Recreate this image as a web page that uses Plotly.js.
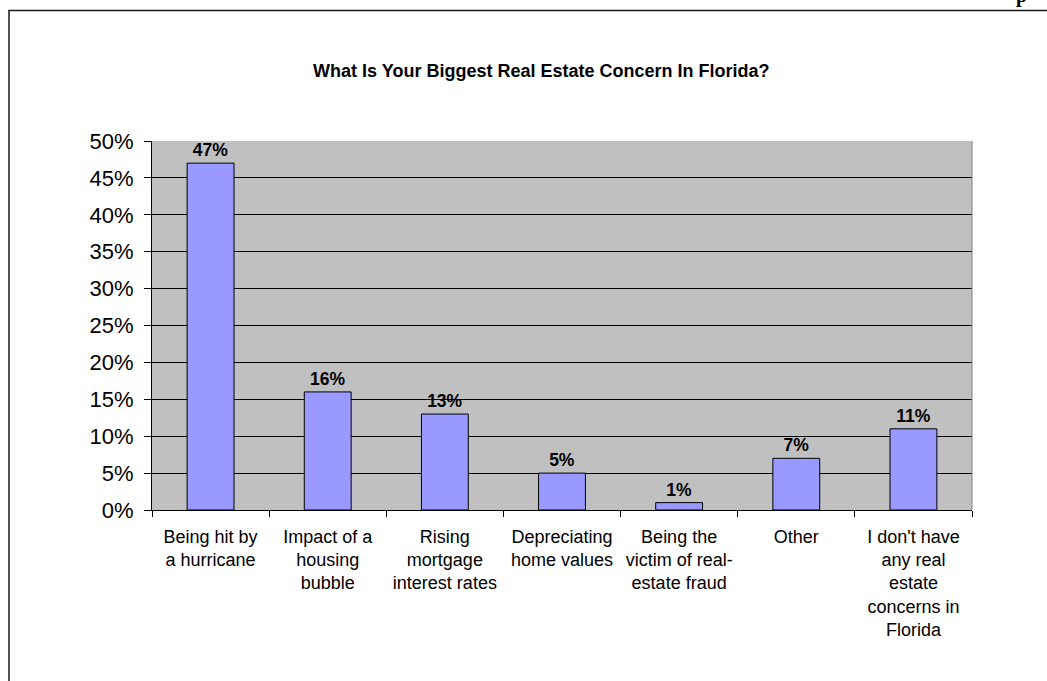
<!DOCTYPE html>
<html>
<head>
<meta charset="utf-8">
<script src="https://cdn.plot.ly/plotly-3.0.1.min.js"></script>
<style>
html,body{margin:0;padding:0;background:#fff;}
#chart{width:1047px;height:681px;}
</style>
</head>
<body>
<div id="chart"></div>
<script>
const categories = [
  "Being hit by<br>a hurricane",
  "Impact of a<br>housing<br>bubble",
  "Rising<br>mortgage<br>interest rates",
  "Depreciating<br>home values",
  "Being the<br>victim of real-<br>estate fraud",
  "Other",
  "I don't have<br>any real<br>estate<br>concerns in<br>Florida"
];
const values = [0.47, 0.16, 0.13, 0.05, 0.01, 0.07, 0.11];
const valueLabels = ["47%", "16%", "13%", "5%", "1%", "7%", "11%"];
const yTickVals = [0, 0.05, 0.10, 0.15, 0.20, 0.25, 0.30, 0.35, 0.40, 0.45, 0.50];
const yTickText = ["0%", "5%", "10%", "15%", "20%", "25%", "30%", "35%", "40%", "45%", "50%"];
const chartTitle = "What Is Your Biggest Real Estate Concern In Florida?";

const trace = {
  type: "bar",
  x: categories,
  y: values,
  width: 0.4,
  marker: {color: "#9999FF", line: {color: "#000000", width: 1}},
  text: valueLabels,
  textposition: "outside",
  texttemplate: "<b>%{text}</b>",
  textfont: {family: "Arial, 'Liberation Sans', sans-serif", size: 17.5, color: "#000"},
  constraintext: "none",
  cliponaxis: false,
  hoverinfo: "none"
};

const layout = {
  width: 1047,
  height: 681,
  margin: {l: 152, r: 75, t: 141, b: 171, pad: 0},
  paper_bgcolor: "#ffffff",
  plot_bgcolor: "#C0C0C0",
  showlegend: false,
  font: {family: "Arial, 'Liberation Sans', sans-serif", color: "#000"},
  title: {
    text: "<b>" + chartTitle + "</b>",
    font: {size: 18, color: "#000"},
    xref: "container", x: 0.517, xanchor: "center",
    yref: "container", y: 0.896, yanchor: "middle"
  },
  xaxis: {
    type: "category",
    showline: true, linecolor: "#000", linewidth: 1,
    ticks: "outside", ticklen: 6, tickcolor: "#000", tickwidth: 1,
    tickson: "boundaries",
    showgrid: false,
    tickfont: {size: 18, color: "#000"},
    tickangle: 0,
    ticklabelstandoff: 10,
    fixedrange: true
  },
  yaxis: {
    range: [0, 0.5],
    tickvals: yTickVals,
    ticktext: yTickText,
    showline: true, linecolor: "#000", linewidth: 1,
    ticks: "outside", ticklen: 7, tickcolor: "#000", tickwidth: 1,
    showgrid: true, gridcolor: "#000", gridwidth: 1,
    zeroline: false,
    tickfont: {size: 22, color: "#000"},
    ticklabelstandoff: 6,
    fixedrange: true
  },
  shapes: [
    {type: "line", xref: "paper", yref: "paper", x0: 1, x1: 1, y0: 0, y1: 1,
     line: {color: "#808080", width: 1}, layer: "above"},
    {type: "rect", xref: "paper", yref: "paper",
     x0: (9 - 152) / 820, x1: 1.2, y0: -0.6, y1: (510 - 10.5) / 369,
     line: {color: "#1a1a1a", width: 1.5}, fillcolor: "rgba(0,0,0,0)", layer: "above"}
  ],
  annotations: [
    {xref: "paper", yref: "paper", x: (1021 - 152) / 820, y: (510 - 9) / 369,
     xanchor: "center", yanchor: "bottom", showarrow: false,
     text: "<b>p</b>", font: {family: "'Liberation Serif', 'Times New Roman', serif", size: 20, color: "#000"}}
  ]
};

Plotly.newPlot("chart", [trace], layout, {displayModeBar: false, staticPlot: true});
</script>
</body>
</html>
